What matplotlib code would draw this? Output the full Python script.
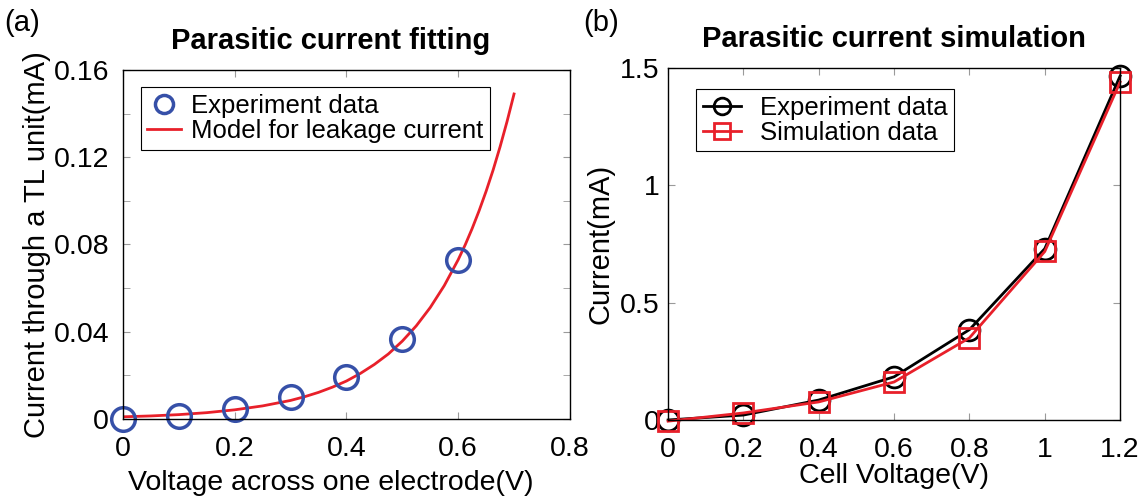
import matplotlib
matplotlib.use("Agg")
import matplotlib.pyplot as plt

plt.rcParams["font.family"] = ["Liberation Sans", "DejaVu Sans"]

# --- (a) parasitic current fitting ---
fit_v = [0.0, 0.1, 0.2, 0.3, 0.4, 0.5, 0.6]
fit_exp = [0.0, 0.0014, 0.0046, 0.0101, 0.0193, 0.0367, 0.0729]
model_v = [0.0, 0.05, 0.1, 0.15, 0.2, 0.25, 0.3, 0.325, 0.35, 0.375,
           0.4, 0.425, 0.45, 0.475, 0.5, 0.525, 0.55, 0.575, 0.6, 0.6125,
           0.625, 0.6375, 0.65, 0.6625, 0.675, 0.6875, 0.7]
model_i = [0.0010, 0.0014, 0.0020, 0.0029, 0.0042, 0.0060, 0.0085, 0.0102,
           0.0122, 0.0146, 0.0174, 0.0209, 0.0250, 0.0298, 0.0357, 0.0427,
           0.0511, 0.0611, 0.0730, 0.0798, 0.0873, 0.0955, 0.1044, 0.1141,
           0.1248, 0.1364, 0.1490]

# --- (b) parasitic current simulation ---
cell_v = [0.0, 0.2, 0.4, 0.6, 0.8, 1.0, 1.2]
sim_exp = [0.0, 0.021, 0.085, 0.184, 0.385, 0.730, 1.466]
sim_model = [-0.005, 0.030, 0.077, 0.162, 0.350, 0.718, 1.440]

BLUE = "#3650a8"
RED = "#e8202a"
TICK_GRAY = "#9a9a9a"

TICK = 20.5
LABEL = 20.5
TITLE = 21
LEGEND = 18.5

fig = plt.figure(figsize=(11.46, 5.01), dpi=100)
ax1 = fig.add_axes([0.1073, 0.1637, 0.390, 0.6966])
ax2 = fig.add_axes([0.583, 0.1617, 0.3944, 0.7026])


def style(ax):
    for sp in ax.spines.values():
        sp.set_color("black")
        sp.set_linewidth(1.0)
    ax.tick_params(which="both", direction="in", top=True, right=True,
                   color=TICK_GRAY, labelsize=TICK, pad=6, length=5)


ax1.plot(model_v, model_i, color=RED, lw=2, label="Model for leakage current")
ax1.plot(fit_v, fit_exp, ls="none", marker="o", ms=17, mfc="none",
         mec=BLUE, mew=2.5, clip_on=False, label="Experiment data")
ax1.set_xlim(0, 0.8)
ax1.set_ylim(0, 0.16)
ax1.set_xticks([0, 0.2, 0.4, 0.6, 0.8])
ax1.set_xticklabels(["0", "0.2", "0.4", "0.6", "0.8"])
ax1.set_yticks([0, 0.04, 0.08, 0.12, 0.16])
ax1.set_yticklabels(["0", "0.04", "0.08", "0.12", "0.16"])
ax1.set_yticks([0.02, 0.06, 0.10, 0.14], minor=True)
style(ax1)
ax1.tick_params(axis="x", pad=12)
ax1.tick_params(axis="y", pad=10)
ax1.set_xlabel("Voltage across one electrode(V)", fontsize=LABEL, labelpad=6)
ax1.xaxis.set_label_coords(0.465, -0.145, transform=ax1.transAxes)
ax1.xaxis.label.set_va("top")
ax1.set_ylabel("Current through a TL unit(mA)", fontsize=21, labelpad=2)
ax1.set_title("Parasitic current fitting", fontsize=TITLE, fontweight="bold",
              pad=15, x=0.465)
h, l = ax1.get_legend_handles_labels()
leg1 = ax1.legend(h[::-1], l[::-1], loc="upper left", bbox_to_anchor=(0.04, 0.95),
                  fontsize=LEGEND, fancybox=False, edgecolor="black",
                  handlelength=1.3, borderpad=0.25, labelspacing=0.05,
                  handletextpad=0.4, borderaxespad=0, framealpha=1)
leg1.legend_handles[0].set_markersize(13)
leg1.get_frame().set_linewidth(0.8)

ax2.plot(cell_v, sim_exp, color="black", lw=2, marker="o", ms=15, mfc="none",
         mec="black", mew=2, clip_on=False, label="Experiment data")
ax2.plot(cell_v, sim_model, color=RED, lw=2, marker="s", ms=14, mfc="none",
         mec=RED, mew=2, clip_on=False, label="Simulation data")
ax2.set_xlim(0, 1.2)
ax2.set_ylim(0, 1.5)
ax2.set_xticks(cell_v)
ax2.set_xticklabels(["0", "0.2", "0.4", "0.6", "0.8", "1", "1.2"])
ax2.set_yticks([0, 0.5, 1, 1.5])
ax2.set_yticklabels(["0", "0.5", "1", "1.5"])
style(ax2)
ax2.tick_params(axis="x", pad=12)
ax2.set_xlabel("Cell Voltage(V)", fontsize=LABEL, labelpad=0)
ax2.set_ylabel("Current(mA)", fontsize=21, labelpad=4)
ax2.set_title("Parasitic current simulation", fontsize=TITLE, fontweight="bold", pad=15)
leg2 = ax2.legend(loc="upper left", bbox_to_anchor=(0.062, 0.94),
                  fontsize=LEGEND, fancybox=False, edgecolor="black",
                  handlelength=1.5, borderpad=0.25, labelspacing=0.05,
                  handletextpad=0.75, borderaxespad=0, framealpha=1)
for hd in leg2.legend_handles:
    hd.set_markersize(12)
leg2.get_frame().set_linewidth(0.8)

fig.text(0.004, 0.955, "(a)", fontsize=21, va="center", ha="left")
fig.text(0.509, 0.955, "(b)", fontsize=21, va="center", ha="left")

fig.savefig("out.png", dpi=100)
